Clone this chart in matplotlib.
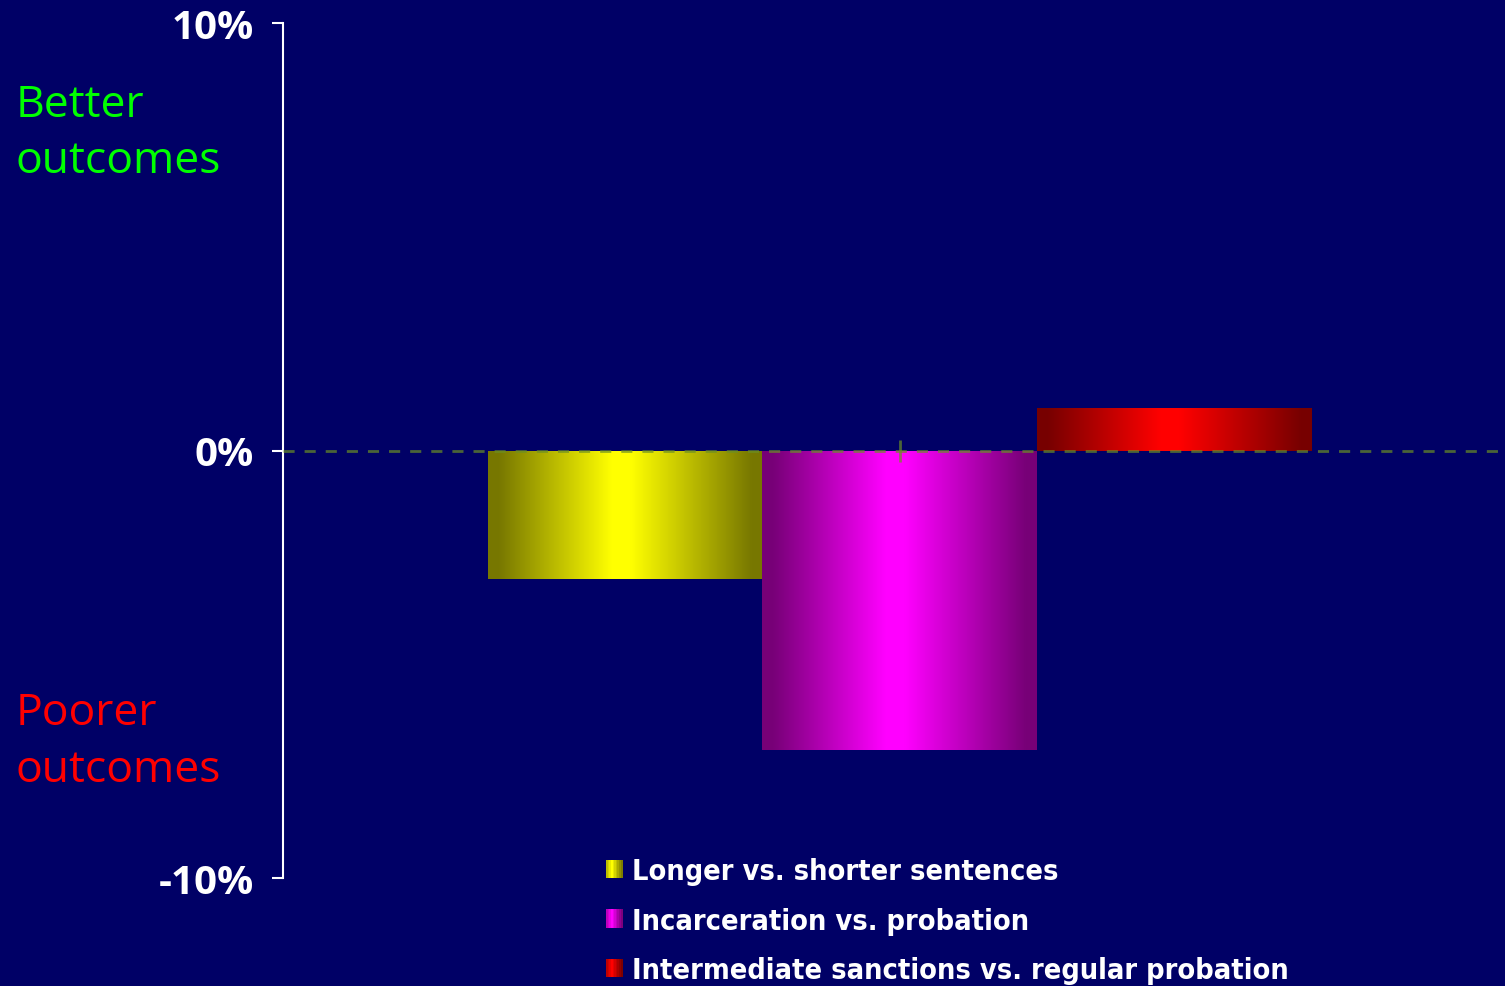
import matplotlib
matplotlib.use('Agg')
import matplotlib.pyplot as plt
import numpy as np
from matplotlib.colors import LinearSegmentedColormap, to_rgb
from matplotlib.legend_handler import HandlerBase
from matplotlib.patches import Rectangle

# ---- data ----
categories = ['Longer vs. shorter sentences',
              'Incarceration vs. probation',
              'Intermediate sanctions vs. regular probation']
values = [-3.0, -7.0, 1.0]
colors = ['#ffff00', '#ff00ff', '#ff0000']
yticks = [-10, 0, 10]
ytick_labels = ['-10%', '0%', '10%']

BG = '#000066'
OLIVE = (0.42, 0.56, 0.14, 0.7)
W, H = 1505, 987


def grad_cmap(c, dark=0.47):
    r, g, b = to_rgb(c)
    d = (r * dark, g * dark, b * dark)
    br = (r, g, b)
    return LinearSegmentedColormap.from_list(
        'grad', [(0.0, d), (0.04, d), (0.45, br), (0.52, br), (0.96, d), (1.0, d)])


class HandlerGradient(HandlerBase):
    def create_artists(self, legend, orig_handle, xdescent, ydescent,
                       width, height, fontsize, trans):
        r, g, b = orig_handle.get_facecolor()[:3]
        n = 10
        arts = []
        for i in range(n):
            t = (i + 0.5) / n
            f = 1.0 - 0.55 * min(1.0, abs(t - 0.35) / 0.65)
            rect = Rectangle((-xdescent + width * i / n, -ydescent),
                             width / n + 0.3, height,
                             facecolor=(r * f, g * f, b * f),
                             edgecolor='none', transform=trans)
            arts.append(rect)
        return arts


fig = plt.figure(figsize=(W / 100, H / 100), dpi=100, facecolor=BG)
ax = fig.add_axes([283 / W, 108 / H, 1233 / W, 855 / H])
ax.set_facecolor(BG)

x = np.arange(len(values)) - 1.0
bars = ax.bar(x, values, width=1.0, color=colors, zorder=2, linewidth=0)
for bar, c in zip(bars, colors):
    x0, y0 = bar.get_x(), bar.get_y()
    w, h = bar.get_width(), bar.get_height()
    grad = np.linspace(0, 1, 256).reshape(1, -1)
    im = ax.imshow(grad, cmap=grad_cmap(c), aspect='auto',
                   extent=[x0, x0 + w, min(y0, y0 + h), max(y0, y0 + h)],
                   zorder=2, interpolation='bilinear')
    im.set_clip_path(bar)
    bar.set_facecolor('none')

ax.set_xlim(-2.247, 2.247)
ax.set_ylim(-10, 10)

# zero line
ax.axhline(0, color=OLIVE, linewidth=2, linestyle=(0, (4, 3.6)), zorder=4)

# spines
for s in ['top', 'right']:
    ax.spines[s].set_visible(False)
ax.spines['bottom'].set_position(('data', 0))
ax.spines['bottom'].set_visible(False)
ax.spines['left'].set_color('white')
ax.spines['left'].set_linewidth(1.5)

ax.set_xticks([0])
ax.tick_params(axis='x', direction='inout', length=16, width=2,
               color=OLIVE, labelbottom=False)
ax.set_yticks(yticks)
ax.set_yticklabels(ytick_labels)
ax.tick_params(axis='y', direction='out', length=8, width=1.5,
               color='white', labelcolor='white', labelsize=29, pad=13)
for lab in ax.get_yticklabels():
    lab.set_fontfamily('Open Sans')
    lab.set_fontweight('bold')
ax.set_axisbelow(False)

# side annotations
tkw = dict(fontsize=32, family='Open Sans', ha='left', va='baseline')
fig.text(16 / W, 1 - 117 / H, 'Better', color='#00ff00', **tkw)
fig.text(16 / W, 1 - 173 / H, 'outcomes', color='#00ff00', **tkw)
fig.text(16 / W, 1 - 725 / H, 'Poorer', color='#ff0000', **tkw)
fig.text(16 / W, 1 - 782 / H, 'outcomes', color='#ff0000', **tkw)

# legend
handles = [Rectangle((0, 0), 1, 1, facecolor=c) for c in colors]
leg = fig.legend(handles, categories, loc='upper left',
                 bbox_to_anchor=(606 / W, 1 - 858 / H),
                 frameon=False, borderpad=0, borderaxespad=0,
                 handlelength=0.57, handleheight=0.62, handletextpad=0.35,
                 labelspacing=0.75,
                 prop={'family': 'DejaVu Sans', 'weight': 'bold',
                       'stretch': 'condensed', 'size': 20.7},
                 handler_map={Rectangle: HandlerGradient()})
for t in leg.get_texts():
    t.set_color('white')

fig.savefig('out.png', dpi=100, facecolor=BG)
